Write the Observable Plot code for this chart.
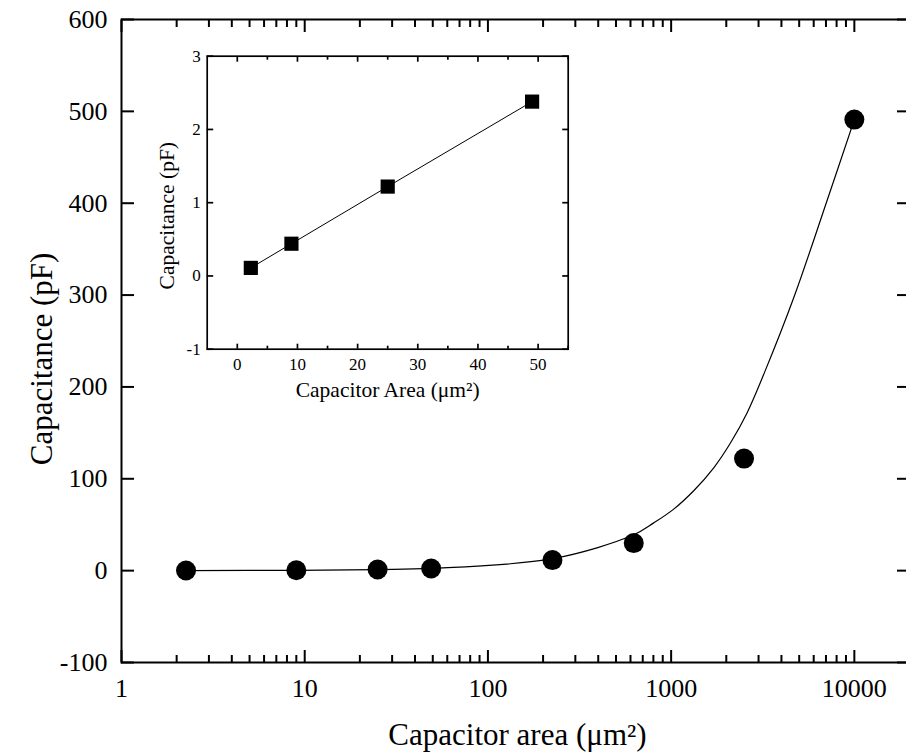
<!DOCTYPE html>
<html>
<head>
<meta charset="utf-8">
<script src="https://cdn.jsdelivr.net/npm/d3@7"></script>
<script src="https://cdn.jsdelivr.net/npm/@observablehq/plot@0.6"></script>
<style>
  html, body { margin: 0; padding: 0; background: #fff; }
  #wrap { position: relative; width: 906px; height: 756px; overflow: hidden; background: #fff; }
  #wrap svg { display: block; }
  #inset { position: absolute; left: 140px; top: 40px; }
</style>
</head>
<body>
<div id="wrap"><div id="main"></div><div id="inset"></div></div>
<script>
// ---- Main chart data ----
const areas = [2.25, 9, 25, 49, 225, 625, 2500, 10000];
const caps  = [0.11, 0.44, 1.22, 2.38, 11.5, 30, 122, 491];

// smooth guide line
const curveX = [2.25, 9, 25, 49, 225, 625, 804, 1033, 1328, 1708, 2107, 2600, 3268, 4667, 7100, 10000];
const curveY = [0.1, 0.4, 1.2, 2.4, 13, 39, 52, 67, 87, 112, 139, 172, 218, 297, 403, 491];

// ---- Inset data ----
const insetAreas = [2.25, 9, 25, 49];
const insetCaps  = [0.11, 0.44, 1.22, 2.38];

// ---- Ticks ----
const xMajor = [1, 10, 100, 1000, 10000];
const xMinor = [2, 3, 4, 5, 6, 7, 8, 9, 20, 30, 40, 50, 60, 70, 80, 90,
                200, 300, 400, 500, 600, 700, 800, 900,
                2000, 3000, 4000, 5000, 6000, 7000, 8000, 9000, 20000];
const yTicks = [-100, 0, 100, 200, 300, 400, 500, 600];
const insetXMajor = [0, 10, 20, 30, 40, 50];
const insetXMinor = [5, 15, 25, 35, 45, 55];
const insetYTicks = [-1, 0, 1, 2, 3];

const mainXTitle = "Capacitor area (\u03BCm\u00B2)";
const mainYTitle = "Capacitance (pF)";
const insetXTitle = "Capacitor Area (\u03BCm\u00B2)";
const insetYTitle = "Capacitance (pF)";

const serif = "'Liberation Serif', 'Times New Roman', Times, serif";
const pts = areas.map((a, i) => ({a, c: caps[i]}));
const curve = curveX.map((a, i) => ({a, c: curveY[i]}));
const ipts = insetAreas.map((a, i) => ({a, c: insetCaps[i]}));
const blank = () => "";
const plain = d => String(d);

const main = Plot.plot({
  width: 906, height: 756,
  marginLeft: 121, marginRight: -3, marginTop: 19, marginBottom: 94,
  style: {fontFamily: serif, background: "transparent", color: "black", overflow: "visible"},
  x: {type: "log", domain: [1, 20000]},
  y: {domain: [-100, 600]},
  marks: [
    Plot.frame({stroke: "black", strokeWidth: 2}),
    // inward ticks
    Plot.axisX(xMajor, {anchor: "bottom", tickSize: -12, strokeWidth: 2, tickFormat: blank, label: null}),
    Plot.axisX(xMinor, {anchor: "bottom", tickSize: -7, strokeWidth: 2, tickFormat: blank, label: null}),
    Plot.axisX(xMajor, {anchor: "top", tickSize: -12, strokeWidth: 2, tickFormat: blank, label: null}),
    Plot.axisX(xMinor, {anchor: "top", tickSize: -7, strokeWidth: 2, tickFormat: blank, label: null}),
    Plot.axisY(yTicks, {anchor: "left", tickSize: -13, strokeWidth: 2, tickFormat: blank, label: null}),
    Plot.axisY(yTicks, {anchor: "right", tickSize: -13, strokeWidth: 2, tickFormat: blank, label: null}),
    // tick labels
    Plot.axisX(xMajor, {anchor: "bottom", tickSize: 0, tickPadding: 16, fontSize: 26, tickFormat: plain, label: null}),
    Plot.axisY(yTicks, {anchor: "left", tickSize: 0, tickPadding: 14, fontSize: 26, tickFormat: plain, label: null}),
    // titles
    Plot.text([mainXTitle], {text: d => d, frameAnchor: "bottom", dx: 2, dy: 73, fontSize: 31, textAnchor: "middle", lineAnchor: "middle", fill: "black"}),
    Plot.text([mainYTitle], {text: d => d, frameAnchor: "left", rotate: -90, dx: -79, dy: 18, fontSize: 31, textAnchor: "middle", lineAnchor: "middle", fill: "black"}),
    // data
    Plot.line(curve, {x: "a", y: "c", curve: "catmull-rom", stroke: "black", strokeWidth: 1.2}),
    Plot.dot(pts, {x: "a", y: "c", r: 10, fill: "black", stroke: "none"})
  ]
});
document.getElementById("main").appendChild(main);

const inset = Plot.plot({
  width: 440, height: 380,
  marginLeft: 66.7, marginRight: 12.3, marginTop: 15.7, marginBottom: 71.3,
  style: {fontFamily: serif, background: "transparent", color: "black", overflow: "visible"},
  x: {domain: [-5, 55]},
  y: {domain: [-1, 3]},
  marks: [
    Plot.frame({stroke: "black", strokeWidth: 1.7}),
    Plot.axisX(insetXMajor, {anchor: "bottom", tickSize: -5, strokeWidth: 1.7, tickFormat: blank, label: null}),
    Plot.axisX(insetXMinor, {anchor: "bottom", tickSize: -3, strokeWidth: 1.7, tickFormat: blank, label: null}),
    Plot.axisX(insetXMajor, {anchor: "top", tickSize: -5, strokeWidth: 1.7, tickFormat: blank, label: null}),
    Plot.axisX(insetXMinor, {anchor: "top", tickSize: -3, strokeWidth: 1.7, tickFormat: blank, label: null}),
    Plot.axisY(insetYTicks, {anchor: "left", tickSize: -6.5, strokeWidth: 1.7, tickFormat: blank, label: null}),
    Plot.axisY(insetYTicks, {anchor: "right", tickSize: -6.5, strokeWidth: 1.7, tickFormat: blank, label: null}),
    Plot.axisX(insetXMajor, {anchor: "bottom", tickSize: 0, tickPadding: 9, fontSize: 17, tickFormat: plain, label: null}),
    Plot.axisY(insetYTicks, {anchor: "left", tickSize: 0, tickPadding: 6.5, fontSize: 17, tickFormat: plain, label: null}),
    Plot.text([insetXTitle], {text: d => d, frameAnchor: "bottom", dy: 41, fontSize: 21.5, textAnchor: "middle", lineAnchor: "middle", fill: "black"}),
    Plot.text([insetYTitle], {text: d => d, frameAnchor: "left", rotate: -90, dx: -40, dy: 13, fontSize: 21.5, textAnchor: "middle", lineAnchor: "middle", fill: "black"}),
    Plot.line(ipts, {x: "a", y: "c", stroke: "black", strokeWidth: 1}),
    Plot.dot(ipts, {x: "a", y: "c", symbol: "square", r: 8, fill: "black", stroke: "none"})
  ]
});
document.getElementById("inset").appendChild(inset);
</script>
</body>
</html>
